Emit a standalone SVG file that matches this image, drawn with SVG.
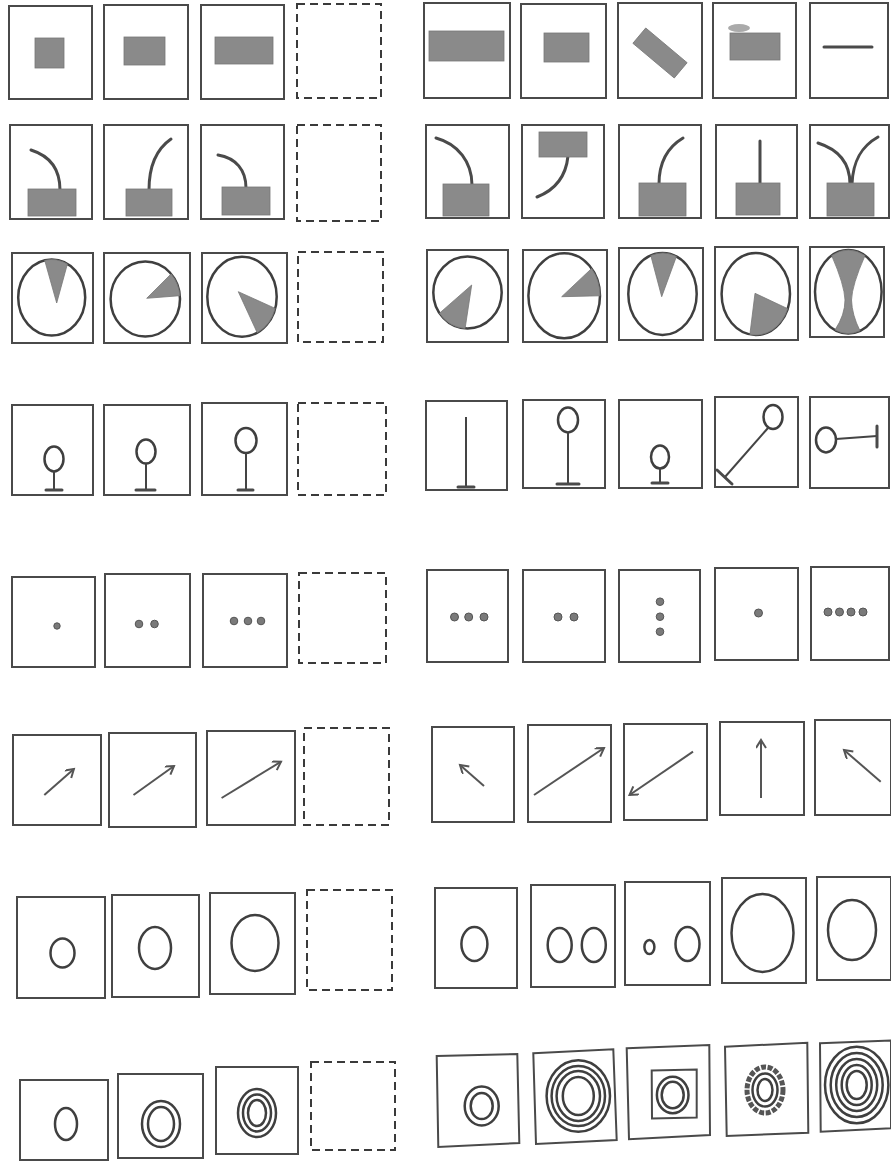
<svg xmlns="http://www.w3.org/2000/svg" width="891" height="1162" viewBox="0 0 891 1162">
<defs>
<style>
.bx{fill:none;stroke:#4a4a4a;stroke-width:2}
.dash{fill:none;stroke:#3a3a3a;stroke-width:2;stroke-dasharray:8 5}
.sh{fill:#8a8a8a;stroke:#777;stroke-width:0.8}
.ln{fill:none;stroke:#4a4a4a;stroke-width:3;stroke-linecap:round}
.ov{fill:none;stroke:#3f3f3f;stroke-width:2.5}
.thin{fill:none;stroke:#444;stroke-width:2}
.dot{fill:#7a7a7a;stroke:#555;stroke-width:1}
.ar{fill:none;stroke:#555;stroke-width:2;marker-end:url(#ah)}
</style>
<marker id="ah" markerWidth="12" markerHeight="12" refX="9" refY="5" orient="auto" markerUnits="userSpaceOnUse">
<path d="M1,0 L9,5 L1,10" fill="none" stroke="#555" stroke-width="2"/>
</marker>
</defs>
<rect width="891" height="1162" fill="#fff"/>

<!-- Row 1 -->
<g id="r1c1"><rect class="bx" x="9" y="6" width="83" height="93"/><rect class="sh" x="35" y="38" width="29" height="30"/></g>
<g id="r1c2"><rect class="bx" x="104" y="5" width="84" height="94"/><rect class="sh" x="124" y="37" width="41" height="28"/></g>
<g id="r1c3"><rect class="bx" x="201" y="5" width="83" height="94"/><rect class="sh" x="215" y="37" width="58" height="27"/></g>
<g id="r1c4"><rect class="dash" x="297" y="4" width="84" height="94"/></g>
<g id="r1c5"><rect class="bx" x="424" y="3" width="86" height="95"/><rect class="sh" x="429" y="31" width="75" height="30"/></g>
<g id="r1c6"><rect class="bx" x="521" y="4" width="85" height="94"/><rect class="sh" x="544" y="33" width="45" height="29"/></g>
<g id="r1c7"><rect class="bx" x="618" y="3" width="84" height="95"/><rect class="sh" x="633" y="43" width="54" height="20" transform="rotate(40 660 53)"/></g>
<g id="r1c8"><rect class="bx" x="713" y="3" width="83" height="95"/><ellipse cx="739" cy="28" rx="11" ry="4" fill="#aaa"/><rect class="sh" x="730" y="33" width="50" height="27"/></g>
<g id="r1c9"><rect class="bx" x="810" y="3" width="78" height="95"/><line class="ln" x1="824" y1="47" x2="872" y2="47"/></g>

<!-- Row 2 -->
<g id="r2c1"><rect class="bx" x="10" y="125" width="82" height="94"/><path class="ln" d="M60,190 C60,170 50,156 31,150"/><rect class="sh" x="28" y="189" width="48" height="27"/></g>
<g id="r2c2"><rect class="bx" x="104" y="125" width="84" height="94"/><path class="ln" d="M149,190 C149,165 158,148 171,139"/><rect class="sh" x="126" y="189" width="46" height="27"/></g>
<g id="r2c3"><rect class="bx" x="201" y="125" width="83" height="94"/><path class="ln" d="M246,188 C246,170 236,158 218,155"/><rect class="sh" x="222" y="187" width="48" height="28"/></g>
<g id="r2c4"><rect class="dash" x="297" y="125" width="84" height="96"/></g>
<g id="r2c5"><rect class="bx" x="426" y="125" width="83" height="93"/><path class="ln" d="M472,185 C472,162 458,144 436,138"/><rect class="sh" x="443" y="184" width="46" height="32"/></g>
<g id="r2c6"><rect class="bx" x="522" y="125" width="82" height="93"/><path class="ln" d="M568,156 C566,176 555,190 537,197"/><rect class="sh" x="539" y="132" width="48" height="25"/></g>
<g id="r2c7"><rect class="bx" x="619" y="125" width="82" height="93"/><path class="ln" d="M659,184 C659,162 668,147 683,138"/><rect class="sh" x="639" y="183" width="47" height="33"/></g>
<g id="r2c8"><rect class="bx" x="716" y="125" width="81" height="93"/><line class="ln" x1="760" y1="184" x2="760" y2="141"/><rect class="sh" x="736" y="183" width="44" height="32"/></g>
<g id="r2c9"><rect class="bx" x="810" y="125" width="79" height="93"/><path class="ln" d="M850,184 C850,165 840,150 818,143"/><path class="ln" d="M852,184 C853,160 862,146 878,137"/><rect class="sh" x="827" y="183" width="47" height="33"/></g>

<!-- Row 3 -->
<g id="r3c1"><rect class="bx" x="12" y="253" width="81" height="90"/><ellipse class="ov" cx="51.7" cy="297.5" rx="33.5" ry="38"/><path class="sh" d="M56.7,303 L44.7,260.3 A33.5,38 0 0 1 67.4,264 Z"/></g>
<g id="r3c2"><rect class="bx" x="104" y="253" width="86" height="90"/><ellipse class="ov" cx="145.3" cy="299" rx="34.7" ry="37.5"/><path class="sh" d="M146.7,298.3 L171.1,273.9 A34.7,37.5 0 0 1 179.9,295.7 Z"/></g>
<g id="r3c3"><rect class="bx" x="202" y="253" width="85" height="90"/><ellipse class="ov" cx="242" cy="296.7" rx="34.7" ry="40"/><path class="sh" d="M238.3,291.7 L275.2,308.4 A34.7,40 0 0 1 257.2,332.7 Z"/></g>
<g id="r3c4"><rect class="dash" x="298" y="252" width="85" height="90"/></g>
<g id="r3c5"><rect class="bx" x="427" y="250" width="81" height="92"/><ellipse class="ov" cx="467.5" cy="292.5" rx="34.2" ry="36"/><path class="sh" d="M471.7,285 L465.1,328.4 A34.2,36 0 0 1 439.5,313.2 Z"/></g>
<g id="r3c6"><rect class="bx" x="523" y="250" width="84" height="92"/><ellipse class="ov" cx="564.2" cy="295.8" rx="35.8" ry="42.5"/><path class="sh" d="M561.7,296.7 L591.6,268.5 A35.8,42.5 0 0 1 600,295.8 Z"/></g>
<g id="r3c7"><rect class="bx" x="619" y="248" width="84" height="92"/><ellipse class="ov" cx="662.5" cy="294" rx="34.2" ry="41"/><path class="sh" d="M661.7,296.7 L650.8,255.5 A34.2,41 0 0 1 676.4,256.5 Z"/></g>
<g id="r3c8"><rect class="bx" x="715" y="247" width="83" height="93"/><ellipse class="ov" cx="755.8" cy="294" rx="34.2" ry="41"/><path class="sh" d="M755,293.3 L787.7,308.7 A34.2,41 0 0 1 749.9,334.4 Z"/></g>
<g id="r3c9"><rect class="bx" x="810" y="247" width="74" height="90"/><ellipse class="ov" cx="848.3" cy="291.7" rx="33.3" ry="41.7"/><path class="sh" d="M831.7,255.6 A33.3,41.7 0 0 1 865,255.6 Q852,285 851.5,300 Q852,315 860,330.8 A33.3,41.7 0 0 1 835,329.9 Q845,315 845,300 Q844.5,285 831.7,255.6 Z"/></g>

<!-- Row 4 -->
<g id="r4c1"><rect class="bx" x="12" y="405" width="81" height="90"/><ellipse class="ov" cx="54" cy="459" rx="9.5" ry="12.5"/><line class="thin" x1="54" y1="471.5" x2="54" y2="490"/><line class="ln" x1="46" y1="490" x2="62" y2="490"/></g>
<g id="r4c2"><rect class="bx" x="104" y="405" width="86" height="90"/><ellipse class="ov" cx="146" cy="451.5" rx="9.5" ry="12"/><line class="thin" x1="146" y1="463.5" x2="146" y2="490"/><line class="ln" x1="136" y1="490" x2="155" y2="490"/></g>
<g id="r4c3"><rect class="bx" x="202" y="403" width="85" height="92"/><ellipse class="ov" cx="246" cy="440.5" rx="10.5" ry="12.5"/><line class="thin" x1="246" y1="453" x2="246" y2="490"/><line class="ln" x1="238" y1="490" x2="253" y2="490"/></g>
<g id="r4c4"><rect class="dash" x="298" y="403" width="88" height="92"/></g>
<g id="r4c5"><rect class="bx" x="426" y="401" width="81" height="89"/><line class="thin" x1="466" y1="417" x2="466" y2="487"/><line class="ln" x1="458" y1="487" x2="474" y2="487"/></g>
<g id="r4c6"><rect class="bx" x="523" y="400" width="82" height="88"/><ellipse class="ov" cx="568" cy="420" rx="10" ry="12.5"/><line class="thin" x1="568" y1="432.5" x2="568" y2="484"/><line class="ln" x1="557" y1="484" x2="579" y2="484"/></g>
<g id="r4c7"><rect class="bx" x="619" y="400" width="83" height="88"/><ellipse class="ov" cx="660" cy="457" rx="9" ry="11.5"/><line class="thin" x1="660" y1="468.5" x2="660" y2="483"/><line class="ln" x1="652" y1="483" x2="668" y2="483"/></g>
<g id="r4c8"><rect class="bx" x="715" y="397" width="83" height="90"/><ellipse class="ov" cx="773" cy="417" rx="9.5" ry="12"/><line class="thin" x1="768" y1="428" x2="725" y2="477"/><line class="ln" x1="717" y1="470" x2="732" y2="484"/></g>
<g id="r4c9"><rect class="bx" x="810" y="397" width="79" height="91"/><ellipse class="ov" cx="826" cy="440" rx="10" ry="12.5"/><line class="thin" x1="836" y1="439" x2="877" y2="436"/><line class="ln" x1="877" y1="426" x2="877" y2="447"/></g>

<!-- Row 5 -->
<g id="r5c1"><rect class="bx" x="12" y="577" width="83" height="90"/><circle class="dot" cx="57" cy="626" r="3.2"/></g>
<g id="r5c2"><rect class="bx" x="105" y="574" width="85" height="93"/><circle class="dot" cx="139" cy="624" r="3.8"/><circle class="dot" cx="154.5" cy="624" r="3.8"/></g>
<g id="r5c3"><rect class="bx" x="203" y="574" width="84" height="93"/><circle class="dot" cx="234" cy="621" r="3.8"/><circle class="dot" cx="248" cy="621" r="3.8"/><circle class="dot" cx="261" cy="621" r="3.8"/></g>
<g id="r5c4"><rect class="dash" x="299" y="573" width="87" height="90"/></g>
<g id="r5c5"><rect class="bx" x="427" y="570" width="81" height="92"/><circle class="dot" cx="454.5" cy="617" r="4"/><circle class="dot" cx="468.7" cy="617" r="4"/><circle class="dot" cx="484" cy="617" r="4"/></g>
<g id="r5c6"><rect class="bx" x="523" y="570" width="82" height="92"/><circle class="dot" cx="558" cy="617" r="4"/><circle class="dot" cx="574" cy="617" r="4"/></g>
<g id="r5c7"><rect class="bx" x="619" y="570" width="81" height="92"/><circle class="dot" cx="660" cy="601.7" r="3.8"/><circle class="dot" cx="660" cy="616.7" r="3.8"/><circle class="dot" cx="660" cy="631.7" r="3.8"/></g>
<g id="r5c8"><rect class="bx" x="715" y="568" width="83" height="92"/><circle class="dot" cx="758.5" cy="613" r="4"/></g>
<g id="r5c9"><rect class="bx" x="811" y="567" width="78" height="93"/><circle class="dot" cx="828" cy="612" r="4"/><circle class="dot" cx="839.5" cy="612" r="4"/><circle class="dot" cx="851" cy="612" r="4"/><circle class="dot" cx="863" cy="612" r="4"/></g>

<!-- Row 6 -->
<g id="r6c1"><rect class="bx" x="13" y="735" width="88" height="90"/><line class="ar" x1="44.3" y1="795" x2="73.9" y2="769"/></g>
<g id="r6c2"><rect class="bx" x="109" y="733" width="87" height="94"/><line class="ar" x1="133.5" y1="795" x2="174" y2="766"/></g>
<g id="r6c3"><rect class="bx" x="207" y="731" width="88" height="94"/><line class="ar" x1="221.6" y1="798" x2="281" y2="761.7"/></g>
<g id="r6c4"><rect class="dash" x="304" y="728" width="85" height="97"/></g>
<g id="r6c5"><rect class="bx" x="432" y="727" width="82" height="95"/><line class="ar" x1="484" y1="786" x2="460" y2="765"/></g>
<g id="r6c6"><rect class="bx" x="528" y="725" width="83" height="97"/><line class="ar" x1="534" y1="795" x2="604" y2="748"/></g>
<g id="r6c7"><rect class="bx" x="624" y="724" width="83" height="96"/><line class="ar" x1="693" y1="751.7" x2="629.5" y2="795"/></g>
<g id="r6c8"><rect class="bx" x="720" y="722" width="84" height="93"/><line class="ar" x1="761" y1="798" x2="761" y2="740"/></g>
<g id="r6c9"><rect class="bx" x="815" y="720" width="76" height="95"/><line class="ar" x1="880.7" y1="781.7" x2="844" y2="750"/></g>

<!-- Row 7 -->
<g id="r7c1"><rect class="bx" x="17" y="897" width="88" height="101"/><ellipse class="ov" cx="62.5" cy="953" rx="12" ry="14.5"/></g>
<g id="r7c2"><rect class="bx" x="112" y="895" width="87" height="102"/><ellipse class="ov" cx="155" cy="948" rx="16" ry="21"/></g>
<g id="r7c3"><rect class="bx" x="210" y="893" width="85" height="101"/><ellipse class="ov" cx="255" cy="943" rx="23.5" ry="28"/></g>
<g id="r7c4"><rect class="dash" x="307" y="890" width="85" height="100"/></g>
<g id="r7c5"><rect class="bx" x="435" y="888" width="82" height="100"/><ellipse class="ov" cx="474.4" cy="944" rx="13" ry="17"/></g>
<g id="r7c6"><rect class="bx" x="531" y="885" width="84" height="102"/><ellipse class="ov" cx="559.7" cy="945" rx="12" ry="17"/><ellipse class="ov" cx="593.8" cy="945" rx="12" ry="17"/></g>
<g id="r7c7"><rect class="bx" x="625" y="882" width="85" height="103"/><ellipse class="ov" cx="649.4" cy="947" rx="5" ry="7"/><ellipse class="ov" cx="687.5" cy="944" rx="12" ry="17"/></g>
<g id="r7c8"><rect class="bx" x="722" y="878" width="84" height="105"/><ellipse class="ov" cx="762.5" cy="933" rx="31" ry="39"/></g>
<g id="r7c9"><rect class="bx" x="817" y="877" width="74" height="103"/><ellipse class="ov" cx="852" cy="930" rx="24" ry="30"/></g>

<!-- Row 8 -->
<g id="r8c1"><rect class="bx" x="20" y="1080" width="88" height="80"/><ellipse class="ov" cx="66" cy="1124" rx="11" ry="16"/></g>
<g id="r8c2"><rect class="bx" x="118" y="1074" width="85" height="84"/><ellipse class="ov" cx="161" cy="1124" rx="19" ry="23"/><ellipse class="ov" cx="161" cy="1124" rx="13" ry="17"/></g>
<g id="r8c3"><rect class="bx" x="216" y="1067" width="82" height="87"/><ellipse class="ov" cx="257" cy="1113" rx="19" ry="24"/><ellipse class="ov" cx="257" cy="1113" rx="14" ry="18.5"/><ellipse class="ov" cx="257" cy="1113" rx="9" ry="13"/></g>
<g id="r8c4"><rect class="dash" x="311" y="1062" width="84" height="88"/></g>
<g id="r8c5"><polygon class="bx" points="436.7,1056 517.3,1054 519.3,1143 438.3,1147"/><ellipse class="ov" cx="481.7" cy="1106" rx="17" ry="19.5"/><ellipse class="ov" cx="481.7" cy="1106" rx="11" ry="13"/></g>
<g id="r8c6"><polygon class="bx" points="533.3,1053.3 613.3,1049.3 616.7,1140 536,1144"/><ellipse class="ov" cx="578.3" cy="1096" rx="31.7" ry="35.8"/><ellipse class="ov" cx="578.3" cy="1096" rx="26.7" ry="30"/><ellipse class="ov" cx="578.3" cy="1096" rx="21.7" ry="25"/><ellipse class="ov" cx="578.3" cy="1096" rx="15.5" ry="19"/></g>
<g id="r8c7"><polygon class="bx" points="626.7,1048.3 709.3,1045 710,1135 629,1139.3"/><polygon class="bx" points="651.7,1070.5 696.7,1069.5 696.7,1117.5 652,1118.5"/><ellipse class="ov" cx="672.7" cy="1095" rx="15.8" ry="18.3"/><ellipse class="ov" cx="672.7" cy="1095" rx="11" ry="13.3"/></g>
<g id="r8c8"><polygon class="bx" points="725,1046.7 807.3,1042.7 808.3,1132.7 726.7,1136"/><ellipse cx="765" cy="1090" rx="18" ry="23" fill="none" stroke="#555" stroke-width="5" stroke-dasharray="5 1.6"/><ellipse class="ov" cx="765" cy="1090" rx="12.5" ry="16.5"/><ellipse class="ov" cx="765" cy="1090" rx="7.5" ry="11"/></g>
<g id="r8c9"><polygon class="bx" points="820,1043.3 891,1040.5 891,1128.3 820.7,1131.7"/><ellipse class="ov" cx="856.7" cy="1085" rx="31.7" ry="38.3"/><ellipse class="ov" cx="856.7" cy="1085" rx="26" ry="32"/><ellipse class="ov" cx="856.7" cy="1085" rx="20.5" ry="26"/><ellipse class="ov" cx="856.7" cy="1085" rx="15" ry="20"/><ellipse class="ov" cx="856.7" cy="1085" rx="10" ry="14"/></g>
</svg>
